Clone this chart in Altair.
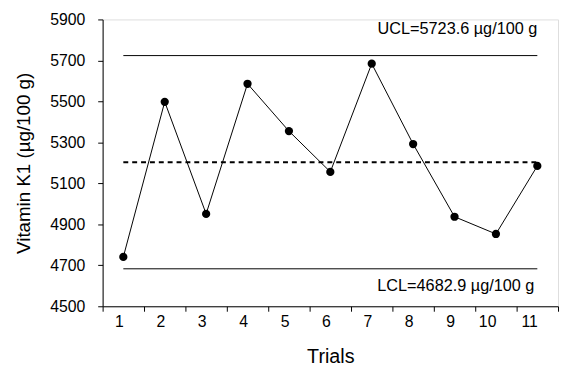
import altair as alt
import pandas as pd

trials = [1, 2, 3, 4, 5, 6, 7, 8, 9, 10, 11]
values = [4741, 5498, 4951, 5586, 5355, 5156, 5684, 5292, 4937, 4853, 5185]
ucl = 5723.6
lcl = 4682.9
center = (ucl + lcl) / 2
limit_names = ["UCL", "LCL"]
limit_values = [ucl, lcl]
limit_labels = ["UCL=5723.6 µg/100 g", "LCL=4682.9 µg/100 g"]
y_ticks = [4500, 4700, 4900, 5100, 5300, 5500, 5700, 5900]

FONT = "Liberation Sans"

df = pd.DataFrame({"trial": trials, "value": values})
lim = pd.DataFrame({
    "name": limit_names,
    "value": limit_values,
    "label": limit_labels,
    "start": [trials[0]] * 2,
    "end": [trials[-1]] * 2,
})
cen = pd.DataFrame({"value": [center], "start": [trials[0]], "end": [trials[-1]]})

xscale = alt.Scale(domain=trials, paddingInner=0, paddingOuter=0)
yscale = alt.Scale(domain=[4500, 5900], nice=False, zero=False)

xaxis = alt.Axis(
    title="Trials", tickBand="extent", labelAngle=0, grid=False,
    domainColor="black", tickColor="black", tickSize=5, labelPadding=11,
    labelFontSize=16, labelFont=FONT, labelColor="black",
    titleFont=FONT, titleFontSize=20, titleFontWeight="normal", titleColor="black",
    titleBaseline="alphabetic", titleY=57,
)
yaxis = alt.Axis(
    title="Vitamin K1 (µg/100 g)", values=y_ticks, format="d", grid=False,
    domainColor="black", tickColor="black", tickSize=5, labelPadding=13,
    labelFontSize=16, labelFont=FONT, labelColor="black",
    titleFont=FONT, titleFontSize=19, titleFontWeight="normal", titleColor="black",
    titleBaseline="alphabetic", titleX=-74, titleY=145.5, titleAngle=270,
)

line = alt.Chart(df).mark_line(color="black", strokeWidth=1).encode(
    x=alt.X("trial:O", scale=xscale, axis=xaxis),
    y=alt.Y("value:Q", scale=yscale, axis=yaxis),
)
pts = alt.Chart(df).mark_point(filled=True, color="black", size=70, opacity=1).encode(
    x=alt.X("trial:O", scale=xscale),
    y=alt.Y("value:Q", scale=yscale),
)
limits = alt.Chart(lim).mark_rule(color="black", strokeWidth=1).encode(
    x=alt.X("start:O", scale=xscale),
    x2="end:O",
    y=alt.Y("value:Q", scale=yscale),
)
cline = alt.Chart(cen).mark_rule(color="black", strokeWidth=2, strokeDash=[5, 4]).encode(
    x=alt.X("start:O", scale=xscale),
    x2="end:O",
    y=alt.Y("value:Q", scale=yscale),
)
ucl_text = alt.Chart(lim).transform_filter(alt.datum.name == "UCL").mark_text(
    align="right", baseline="alphabetic", dx=0, dy=-22, fontSize=16.5, font=FONT, color="black"
).encode(
    x=alt.X("end:O", scale=xscale),
    y=alt.Y("value:Q", scale=yscale),
    text="label:N",
)
lcl_text = alt.Chart(lim).transform_filter(alt.datum.name == "LCL").mark_text(
    align="right", baseline="alphabetic", dx=-3, dy=23, fontSize=16.5, font=FONT, color="black"
).encode(
    x=alt.X("end:O", scale=xscale),
    y=alt.Y("value:Q", scale=yscale),
    text="label:N",
)

chart = alt.layer(limits, cline, line, pts, ucl_text, lcl_text).properties(
    width=462, height=291,
    autosize=alt.AutoSizeParams(type="none"),
    padding={"left": 96, "top": 9, "right": 2, "bottom": 60},
).configure_view(stroke=None).configure(background="white")

chart.save("out.html", embed_options={"renderer": "svg", "actions": False})
